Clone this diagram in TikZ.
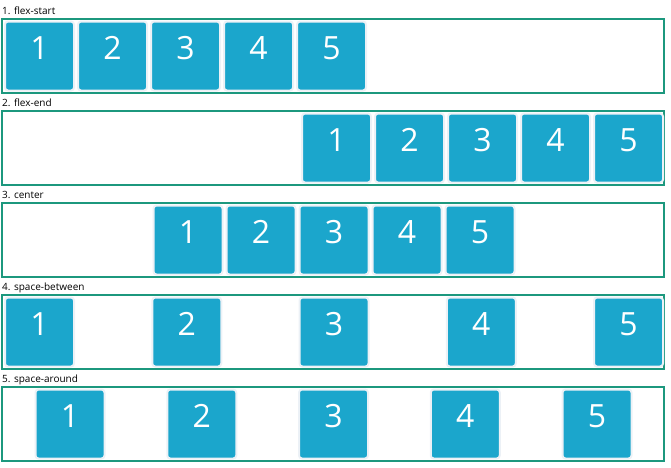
\documentclass[tikz,border=0pt]{standalone}
\usepackage{fontspec}
\setmainfont{Open Sans}
\usepackage{tikz}
\usetikzlibrary{positioning}
\definecolor{frameteal}{RGB}{28,152,126}
\definecolor{itemblue}{RGB}{27,166,204}
\definecolor{itemedge}{RGB}{236,241,246}
\tikzstyle{frame}=[draw=frameteal,line width=2pt,minimum width=662pt,minimum height=74pt,inner sep=0pt]
\tikzstyle{item}=[draw=itemedge,fill=itemblue,line width=2pt,rounded corners=3pt,minimum size=69pt,inner sep=0pt,
  text=white,font=\fontsize{32}{32}\selectfont,text height=23pt,text depth=17pt]
\tikzstyle{caption}=[anchor=base west,inner sep=0pt,font=\fontsize{10}{12}\selectfont]

\begin{document}
\begin{tikzpicture}[x=1pt,y=-1pt]
\useasboundingbox (0,0) rectangle (671,467);
% one row per justify-content value
\foreach \r/\start/\gap/\txt in {0/39.5/73/flex-start,1/336.5/73/flex-end,2/188/73/center,
                                 3/39.5/147.25/space-between,4/70/131.75/space-around}
{
  \pgfmathtruncatemacro{\n}{\r+1}
  \node [frame] (row\n) at (333,56+92*\r) {};
  \node [caption] (lab\n) at (2,14.5+92*\r) {\n. \txt};
  \foreach \k in {1,...,5}
    \node [item] (b\n-\k) at (\start+\gap*\k-\gap,56+92*\r) {\k};
}
\end{tikzpicture}
\end{document}
